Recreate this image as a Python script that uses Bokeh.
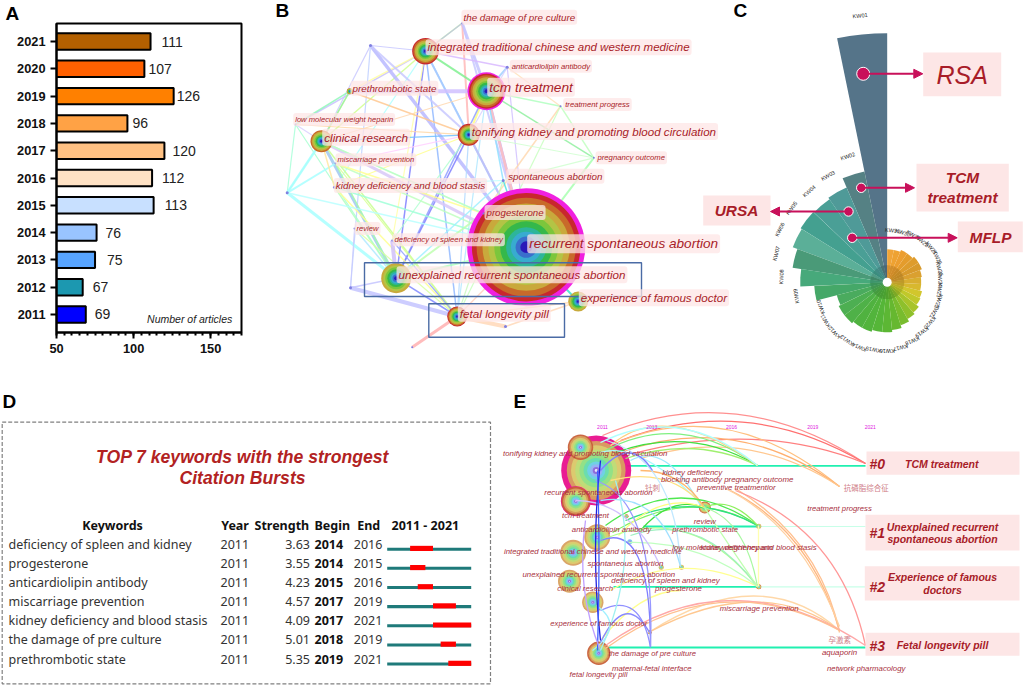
from bokeh.plotting import figure
from bokeh.layouts import column, row
from bokeh.embed import file_html
from bokeh.resources import INLINE
from bokeh.core.properties import value
from bokeh.models import (Range1d, FactorRange, FixedTicker, Arrow, NormalHead,
                          ColumnDataSource)
import math

# ---------- panel A data ----------
years = ["2011","2012","2013","2014","2015","2016","2017","2018","2019","2020","2021"]
articles = [69,67,75,76,113,112,120,96,126,107,111]
bar_colors = ["#0000FF","#1C98B0","#57A4FF","#99C4FF","#C8E0FF","#FFE2C4","#FFC183","#FFA245","#FF8000","#FF6000","#B36000"]
label_dx = [9,10,12,9,11,10,8,5,3,4,11]

# ---------- panel B data ----------
b_names = ["rec","tcm","integ","tonif","clin","unex","fetal","exper","pre","damage","anti","tp","preg","low","tl",
           "kid","spon","mis","gest","defi","rev","left","ll","bot","peach"]
b_x = [525.7,486,425,468.3,321,395.7,456.7,577.7,349.3,461.7,506.7,560,593.3,295,370,
       334,502.7,335,483,391.7,354,286.7,350,411.7,505]
b_y = [246.7,90.7,50.7,134.3,140.7,277.7,316,301,90.7,22.7,66.7,105.7,157.3,124,45,
       186.7,180,163,213,240,228,192.3,287.3,346.7,326]
b_r = [59,19,13.3,11,11,15,10,10,3,1,1.5,1,1,1,1.5,1.5,1.5,1,1,1,1,1.5,1.5,1,1.5]
b_skip = [0,0,0,0,1,2,0,2,1,0,0,0,0,0,0,0,0,0,0,0,0,0,0,0,0]
b_edges = [
 ("damage","tcm","#C4C4FF",3),("damage","integ","#C8FFB0",1.5),("damage","tonif","#FFB8B8",2),("damage","integ","#C0C0E0",1.2),
 ("damage","rec","#C8C8FF",2),("integ","anti","#D8B8FF",1.5),("integ","tcm","#80F090",2),("integ","tonif","#90D8FF",1.5),
 ("integ","rec","#A8C8FF",2),("integ","unex","#8080FF",1.5),("integ","fetal","#90B8FF",1.5),("integ","clin","#D0FF90",1.5),
 ("integ","low","#C8C0FF",1.5),("integ","pre","#FFFFA0",1.5),("integ","defi","#FFFFA8",1.2),("integ","kid","#B0FFFF",1.2),
 ("tl","rec","#B8B8FF",3.5),("tl","tonif","#C8C8FF",2),("tl","clin","#C8C8FF",1.2),("tl","ll","#C0D0FF",1.2),("tl","integ","#C8C8FF",1),
 ("pre","tcm","#D0C0FF",4),("pre","tonif","#FFC890",1.5),("pre","clin","#FFFF90",1.5),("pre","low","#90F8B8",1.5),("pre","clin","#90F0A8",1.5),
 ("low","clin","#D8D0FF",1.2),("low","tonif","#FFD8A8",1.2),("low","left","#A8FFD8",1.2),("low","unex","#A8FFD0",1.2),
 ("anti","tcm","#A0D0FF",2),("anti","tonif","#D8D0FF",1.2),("anti","rec","#D0C0FF",1.2),
 ("tcm","tonif","#FFFF80",2),("tcm","rec","#C0B0F8",3),("tcm","tp","#B0FFC0",1.5),("tcm","preg","#90F0A0",1.5),("tcm","unex","#90A0FF",1.5),
 ("tcm","fetal","#B0E8FF",1.2),("tcm","clin","#FFD8B0",1.2),("tcm","rec","#FFC0C0",2.5),("tcm","spon","#90E0FF",1.5),
 ("tp","preg","#C0FFC0",1.5),("tp","gest","#FFD8B0",1.5),("tp","fetal","#C8FFC0",1.2),("tp","anti","#FFE0B8",1.2),
 ("preg","rec","#A8FFB0",2),("preg","spon","#D0FFD0",1.2),("preg","tonif","#D0FFD0",1),
 ("tonif","clin","#70C0FF",1.2),("tonif","unex","#8080FF",1.5),("tonif","rec","#C0C0F8",2),("tonif","fetal","#B0D8FF",1.2),("tonif","mis","#FFD0FF",1.2),
 ("tonif","kid","#FFFF90",1.2),("tonif","defi","#B0FFD0",1.2),
 ("clin","unex","#A0C8F0",3),("clin","fetal","#C8FF90",1.5),("clin","rec","#D8C8F8",3),("clin","left","#A0FFE0",1.2),("clin","gest","#FFFF90",1.2),
 ("mis","unex","#A8FFA8",1.5),("mis","rec","#C0FFC0",1.5),("mis","gest","#FFFF90",1.5),("mis","fetal","#D8FF90",1.2),
 ("kid","unex","#B0FFC0",1.5),("kid","fetal","#FFFF90",1.5),("kid","rec","#A0FFD8",1.5),("kid","spon","#B8FFFF",1.2),
 ("spon","unex","#A0F0FF",1.5),("spon","fetal","#C8F8C0",1.2),("spon","rec","#50E0E0",1.5),
 ("left","unex","#A8FFFF",3),("left","clin","#A8FFFF",2.5),("left","mis","#A8FFFF",2),("left","rec","#B8FFFF",1.5),
 ("rev","unex","#B0E8FF",1.5),("rev","fetal","#D8FFA0",1.2),("rev","ll","#C8C8FF",1),
 ("defi","unex","#D0C0F8",4),("defi","fetal","#90A0FF",1.2),("gest","unex","#C0FFB0",2),("gest","clin","#B0FFD0",1.5),
 ("ll","fetal","#C4C4FF",4),("ll","unex","#C4C4FF",1.5),("unex","fetal","#8088FF",1.5),("unex","rec","#B0FFC0",2),
 ("fetal","bot","#FFB0B0",3),("fetal","peach","#FFD8B8",4),("fetal","rec","#FFD0C0",1.5),("exper","rec","#40E0D0",2),
 ("exper","fetal","#FFD8B0",1.5),("peach","exper","#FFD8B8",1.5),("kid","clin","#FFE8A0",1.5),
]
b_labels = [
 ("the damage of pre culture",461,16.7,112),("integrated traditional chinese and western medicine",425,46.7,262),
 ("anticardiolipin antibody",509.3,65.7,78),("tcm treatment",486.7,86.7,84),("prethrombotic state",350,87.7,84),
 ("treatment progress",562.7,104,65),("low molecular weight heparin",292.7,119,98),
 ("tonifying kidney and promoting blood circulation",469.3,131,244),("clinical research",321.7,136.7,84),
 ("pregnancy outcome",595,157.3,68),("miscarriage prevention",335,159.3,77),("spontaneous abortion",505.7,175.7,94),
 ("kidney deficiency and blood stasis",333.3,185,149),("progesterone",484,212,57),("review",354,228,22),
 ("deficiency of spleen and kidney",392,239.3,108),("recurrent spontaneous abortion",526.7,243.3,189),
 ("unexplained recurrent spontaneous abortion",396,274.3,227),("experience of famous doctor",578.3,297.3,147),
 ("fetal longevity pill",457.3,312.7,89),
]

# ---------- panel C data ----------
kw_values = [249,113,103,101,102,100.7,95.7,87,73,52,54,54,52,52,50,50,48,45,42,40,37,36,34,34,35,37,37,35,35,33,33]
kw_names = ["KW%02d" % i for i in range(1,32)]
kw_colors = ["#557489","#558184","#4F9A98","#4A9F96","#44A090","#5BAF98","#4A9A78","#47A97B","#45A868","#4AAB5E","#4DAF52","#4FB148",
             "#50B240","#52B43C","#55B638","#5CB734","#66B830","#78BC2E","#8EC02C","#A8C42A","#C0C82A","#D2C62C","#D8B82E","#D8AE30",
             "#DAA030","#D89A2C","#DE9C2C","#E49C2C","#EC9E30","#EEA232","#F0A438"]

# ---------- panel D data ----------
burst_keywords = ["deficiency of spleen and kidney","progesterone","anticardiolipin antibody","miscarriage prevention",
                  "kidney deficiency and blood stasis","the damage of pre culture","prethrombotic state"]
burst_year = [2011]*7
burst_strength = ["3.63","3.55","4.23","4.57","4.09","5.01","5.35"]
burst_begin = [2014,2014,2015,2017,2017,2018,2019]
burst_end = [2016,2015,2016,2019,2021,2019,2021]

# ---------- panel E data ----------
e_node_x = [595.7,580,575.3,596.7,572.7,569,592.3,598.3,704.3,758.3,758.3,681,660.7,626,629.3,649.3]
e_node_y = [470,446.7,500.7,536.7,552.3,580.7,601.7,652.7,507,525.7,586.3,566.7,566.7,515.7,541.3,631.7]
e_node_r = [35,12.7,15,13,13,11.5,10.7,11.7,6,2.5,2.5,2.5,2.5,2,2.5,2]
e_skip = [1,0,0,1,1,1,1,0,0,1,0,1,1,0,6,0]
e_years = ["2011","2013","2016","2019","2021"]
e_year_x = [602,651.3,731,812.3,869.7]
e_arcs = [
 (602,435,865,463,735,378,"#FF9090"),(620,440,865,463,745,392,"#FF7070"),(633,453,865,463,760,420,"#FF8080"),
 (610,445,839,486,725,392,"#FFC080"),(620,452,839,486,735,410,"#FFB070"),(640,458,839,486,745,425,"#FFC890"),
 (605,450,757,465,680,410,"#80F080"),(615,452,757,465,690,425,"#40E040"),(625,458,757,465,695,435,"#A0F070"),
 (610,445,757,465,665,398,"#FFD080"),(600,442,757,465,680,402,"#B0FFFF"),(630,460,700,505,665,440,"#A0E8FF"),
 (600,452,704,507,640,440,"#A8F8FF"),(610,480,704,507,670,465,"#FFE080"),(640,470,704,507,680,470,"#FFB870"),
 (605,525,757,525,680,470,"#50E850"),(612,532,757,525,690,485,"#80F060"),(625,520,757,525,695,490,"#30E080"),
 (640,530,704,507,670,495,"#40E040"),(704,507,757,525,730,495,"#90F060"),(618,535,704,507,660,490,"#FFFF80"),
 (600,540,757,586,690,500,"#B0FF90"),(630,535,757,586,700,510,"#A0F0C0"),(704,507,757,586,745,520,"#A8F8A0"),(704,507,757,586,725,540,"#C0FFB0"),
 (758,525,758,586,758,555,"#FFFFB0"),(610,590,757,586,680,548,"#FFFF90"),(628,542,757,586,700,540,"#C0FFC0"),
 (730,490,839,630,810,530,"#FFB880"),(735,488,839,632,820,540,"#FFC090"),(725,488,839,626,800,525,"#FFD0A0"),
 (735,490,865,645,840,530,"#FF9898"),(648,632,839,630,760,560,"#FFD8A8"),(648,632,839,630,760,572,"#FFC890"),
 (605,645,865,645,730,555,"#FFA8A8"),(605,648,839,630,720,565,"#FFC090"),(600,640,680,590,640,590,"#FFFF90"),
 (600,642,649,632,625,590,"#8888FF"),(600,610,650,647,640,590,"#9090FF"),(600,540,650,646,650,520,"#8080FF"),
 (595,480,650,646,655,500,"#9898FF"),(606,440,680,566,675,460,"#C0E8FF"),(600,500,680,566,660,490,"#A0E0FF"),
 (575,500,660,566,630,500,"#D0C0FF"),(600,470,652,470,630,435,"#8080FF"),(596,605,592,650,625,625,"#A0F0FF"),
 (600,460,600,640,590,550,"#2020E0"),(597,470,597,650,600,560,"#4060FF"),(585,520,600,650,575,590,"#C0A0FF"),(615,480,600,650,640,560,"#A0F0F0"),
]
e_labels = [
 ("tonifying kidney and promoting blood circulation",584.7,453.3,164),("kidney deficiency",691.7,471.7,60),
 ("blocking antibody pregnancy outcome",726.7,479.3,132),("preventive treatmentior",735.7,486.7,79),
 ("treatment progress",839,507.7,65),("recurrent spontaneous abortion",598,491.7,108),("tcm treatment",585,514.7,47),
 ("review",704.3,521,22),("anticardiolipin antibody",611,529.3,79),("prethrombotic state",704.7,528.7,66),
 ("integrated traditional chinese and western medicine",592.3,550.7,177),("low molecular weight heparin",722,547.3,100),
 ("kidney deficiency and blood stasis",758,547.3,117),("spontaneous abortion",625,563,76),
 ("unexplained recurrent spontaneous abortion",598.3,573.7,153),("deficiency of spleen and kidney",665,580.3,109),
 ("clinical research",584.7,587.7,56),("progesterone",678,588.3,47),("miscarriage prevention",758.7,608,79),
 ("experience of famous doctor",598.3,623.3,98),("aquaporin",839,652.3,35),("the damage of pre culture",651.7,653.3,88),
 ("maternal-fetal interface",651.3,668.3,80),("network pharmacology",865.7,668.3,78),("fetal longevity pill",598,674.3,58),
]
e_cjk = [("针刺",652,486.7,15),("抗磷脂综合征",865.7,486.7,45),("孕激素",839.3,638.7,20)]

CW = {**{c:.222 for c in "ijl"},**{c:.278 for c in "tf "},"r":.333,"m":.833,"w":.722,"k":.5,"s":.5,"y":.5,"v":.5,"c":.5,"z":.5,"-":.333}
def fit(s, w):
    return "%.1fpx" % (w / sum(CW.get(c, .556) for c in s))

RED = "#A81C28"
PINK = "#FDE6E6"
SANS = value("Liberation Sans")

def new_fig(w, h, x0, x1, y0, y1):
    p = figure(width=w, height=h, x_range=Range1d(x0, x1), y_range=Range1d(y0, y1), x_axis_type=None, y_axis_type=None,
               toolbar_location=None, output_backend="svg", min_border=0, outline_line_color=None, frame_align=False)
    p.grid.visible = False
    return p

# ---------- A ----------
pa = figure(width=258, height=385, y_range=FactorRange(factors=years, range_padding=0.16, range_padding_units="absolute"),
            x_range=Range1d(50, 170), toolbar_location=None, output_backend="svg",
            min_border_left=56, min_border_right=17, min_border_top=0, min_border_bottom=53,
            outline_line_color="black", outline_line_width=2, frame_align=False, title="A")
pa.title.text_font = "Liberation Sans"
pa.title.text_font_style = "bold"
pa.title.text_font_size = "19px"
pa.title.text_color = "black"
pa.title.align = "left"
pa.title.offset = -51
pa.title.standoff = 0
pa.grid.visible = False
src_a = ColumnDataSource(dict(y=years, v=articles, c=bar_colors, t=[str(v) for v in articles], dx=label_dx))
pa.hbar(y="y", left=50, right="v", height=0.6, fill_color="c", line_color="black", line_width=2, source=src_a)
pa.text(x="v", y="y", text="t", x_offset="dx", text_baseline="middle", text_font=SANS, text_font_size="14px",
        text_color="#222222", source=src_a)
pa.text(x=[171-7], y=["2011"], text=["Number of articles"], text_align="right", text_baseline="top", y_offset=[-1],
        text_font=SANS, text_font_style="italic", text_font_size="10.5px", text_color="#222222")
pa.xaxis.ticker = FixedTicker(ticks=[50,100,150], minor_ticks=list(range(50,171,5)))
for ax in (pa.xaxis[0], pa.yaxis[0]):
    ax.axis_line_width = 2
    ax.major_tick_line_width = 2
    ax.minor_tick_line_width = 2
    ax.major_tick_in = 0
    ax.minor_tick_in = 0
    ax.major_tick_out = 6
    ax.minor_tick_out = 3
    ax.major_label_text_font = "Liberation Sans"
    ax.major_label_text_font_style = "bold"
    ax.major_label_text_font_size = "12.8px"
    ax.major_label_text_color = "#111111"

# ---------- B + C ----------
pt = new_fig(766, 385, 258, 1024, 385, 0)
ix = {n:i for i,n in enumerate(b_names)}
pt.segment(x0=[b_x[ix[e[0]]] for e in b_edges], y0=[b_y[ix[e[0]]] for e in b_edges],
           x1=[b_x[ix[e[1]]] for e in b_edges], y1=[b_y[ix[e[1]]] for e in b_edges],
           line_color=[e[2] for e in b_edges], line_width=[e[3] for e in b_edges], line_alpha=0.85)
ring_cols = ["#C8272E","#C86A2A","#C9A93C","#B3C445","#7CC63C","#35B84A","#2DB59A","#38ABD0","#3A6FCC","#2A18B8"]
ring_frac = [.92,.84,.74,.64,.54,.44,.34,.26,.18,.10]
def rings(p, xs, ys, rs, flags, skips, cols, frac, alpha=1.0, mag="#F020E0"):
    X,Y,R,C = [],[],[],[]
    for x,y,r,f,s in zip(xs,ys,rs,flags,skips):
        if r < 2:
            X.append(x);Y.append(y);R.append(r);C.append("#8080E0");continue
        if f:
            X.append(x);Y.append(y);R.append(r);C.append(mag)
        for fr,c in zip(frac[s:],cols[s:]):
            X.append(x);Y.append(y);R.append(r*fr if f else r*fr/frac[s]);C.append(c)
    p.circle(x=X,y=Y,radius=R,fill_color=C,line_color=None,fill_alpha=alpha)
rings(pt, b_x, b_y, b_r, [r>15 for r in b_r], b_skip, ring_cols, ring_frac)
pt.quad(left=[364,428.3],right=[641,564],top=[262.3,303.3],bottom=[296,336.7],fill_color=None,line_color="#4A6BA5",line_width=1.4)
pt.text(x=[l[1] for l in b_labels],y=[l[2] for l in b_labels],text=[l[0] for l in b_labels],
        text_font=SANS,text_font_style="italic",text_baseline="middle",text_color=RED,
        text_font_size=[fit(l[0],l[3]) for l in b_labels],
        background_fill_color=PINK,background_fill_alpha=0.75,border_radius=3,padding=2)

# polar
cxc, cyc, dth = 886.7, 281.7, 360/31
th0 = [90+i*dth for i in range(31)]
th1 = [90+(i+1)*dth for i in range(31)]
pt.wedge(x=cxc,y=cyc,radius=kw_values,start_angle=th0,end_angle=th1,start_angle_units="deg",end_angle_units="deg",fill_color=kw_colors,line_color=None)
inner = ["#%02x%02x%02x" % tuple(int(int(c[j:j+2],16)*.88) for j in (1,3,5)) for c in kw_colors]
pt.wedge(x=cxc,y=cyc,radius=17,start_angle=th0,end_angle=th1,start_angle_units="deg",end_angle_units="deg",fill_color=inner,line_color=None)
pt.circle(x=cxc,y=cyc,radius=4.5,fill_color="white",line_color=None)
mid = [(a+b)/2 for a,b in zip(th0,th1)]
pt.text(x=[cxc+(r+19)*math.cos(math.radians(m)) for r,m in zip(kw_values,mid)],
        y=[cyc-(r+19)*math.sin(math.radians(m)) for r,m in zip(kw_values,mid)],
        text=kw_names,angle=[m-90 for m in mid],angle_units="deg",text_align="center",text_baseline="middle",
        text_font=SANS,text_font_size="5.5px",text_color="#222222")
pt.quad(left=[922.7,916,702.7,957.3],right=[1000.7,1008.3,770,1022.3],top=[52,163.3,195,221],bottom=[95.7,211,225,251.7],
        fill_color=PINK,line_color=None)
CRIM="#C8105A"
for (x0,y0,x1) in [(862.7,73.3,922.3),(860.7,187.3,914),(848,211,770),(851.7,237.3,956.7)]:
    pt.add_layout(Arrow(x_start=x0,y_start=y0,x_end=x1,y_end=y0,line_color=CRIM,line_width=2,
                        end=NormalHead(size=9,fill_color=CRIM,line_color=CRIM)))
pt.circle(x=[862.7,860.7,848,851.7],y=[73.3,187.3,211,237.3],radius=[6.5,4.7,4.7,4.7],fill_color=CRIM,line_color="white",line_width=1)
pt.text(x=[961.7],y=[74],text=["RSA"],text_font=SANS,text_font_style="italic",text_font_size="25px",text_color=RED,text_align="center",text_baseline="middle")
pt.text(x=[962,962,736,990],y=[177,197,210,237],text=["TCM","treatment","URSA","MFLP"],text_font=SANS,text_font_style="bold italic",
        text_font_size="15.4px",text_color=RED,text_align="center",text_baseline="middle")
for t,x,y in [("B",275,10),("C",733,10)]:
    pt.text(x=[x],y=[y],text=[t],text_font=SANS,text_font_style="bold",text_font_size="19px",text_color="black",text_align="left",text_baseline="middle")

# ---------- D + E ----------
pb = new_fig(1024, 300, 0, 1024, 685, 385)
yw = 84/11
pb.extra_x_ranges["years"] = Range1d(2011-386.7/yw, 2011+(1024-386.7)/yw)
pb.extra_y_ranges["rows"] = Range1d((685-543.7)/19.15, (385-543.7)/19.15)
pb.text(x=[2],y=[401],text=["D"],text_font=SANS,text_font_style="bold",text_font_size="19px",text_color="black",text_baseline="middle")
pb.text(x=[513],y=[401],text=["E"],text_font=SANS,text_font_style="bold",text_font_size="19px",text_color="black",text_baseline="middle")
pb.quad(left=[1.7],right=[490],top=[421.7],bottom=[683.3],fill_color=None,line_color="#808080",line_width=1.2,line_dash="4 2")
pb.text(x=[242,242],y=[456.7,477.7],text=["TOP 7 keywords with the strongest","Citation Bursts"],text_align="center",text_baseline="middle",
        text_font=SANS,text_font_style="bold italic",text_font_size="17.6px",text_color="#B22222")
NS = value("Noto Sans")
rows = list(range(7))
pb.text(x=[112,220.7,254,314,356.7,391],y=[-1]*6,y_range_name="rows",text=["Keywords","Year","Strength","Begin","End","2011 - 2021"],
        text_font=NS,text_font_style="bold",text_font_size="12.5px",text_color="#111111",text_baseline="middle",
        text_align=["center"]+["left"]*5)
common = dict(y=rows,y_range_name="rows",text_font=NS,text_font_size="12.5px",text_color="#333333",text_baseline="middle")
pb.text(x=[8]*7,text=burst_keywords,**common)
pb.text(x=[220]*7,text=[str(y) for y in burst_year],**common)
pb.text(x=[309.5]*7,text=burst_strength,text_align="right",**common)
pb.text(x=[353.3]*7,text=[str(y) for y in burst_end],**common)
pb.text(x=[314]*7,text=[str(y) for y in burst_begin],y=rows,y_range_name="rows",text_font=NS,text_font_style="bold",
        text_font_size="12.5px",text_color="#111111",text_baseline="middle")
pb.hbar(y=[r+.26 for r in rows],left=2011,right=2022,height=.16,fill_color="#1F7A7A",line_color=None,x_range_name="years",y_range_name="rows")
pb.hbar(y=[r+.22 for r in rows],left=burst_begin,right=[e+1 for e in burst_end],height=.27,fill_color="#FF0000",line_color=None,x_range_name="years",y_range_name="rows")

# E: cluster lines
pb.segment(x0=[756,758,626.7,613,643,600],y0=[526,586.3,465.3,586.3,526,647],x1=[865,865,865,758,757,865],y1=[526,586.3,465.3,586.3,526,647],
           line_color=["#C8FFE8","#C8FFE8","#20F0B0","#20F0B0","#20F0B0","#20F0B0"],line_width=[1.2,1.2,1.8,1.8,1.8,1.8])
e_cols = ["#C8603A","#D8A060","#DCCC70","#BEDC78","#90E088","#68DCB0","#70D0E8","#98B0F4","#9068D8","#F4F0FF"]
e_frac = [.96,.84,.72,.60,.48,.36,.26,.18,.10,.04]
rings(pb, e_node_x, e_node_y, e_node_r, [r in (35,15) for r in e_node_r], e_skip, e_cols, e_frac, alpha=.95, mag="#E8108C")
pb.quadratic(x0=[a[0] for a in e_arcs],y0=[a[1] for a in e_arcs],x1=[a[2] for a in e_arcs],y1=[a[3] for a in e_arcs],
             cx=[a[4] for a in e_arcs],cy=[a[5] for a in e_arcs],line_color=[a[6] for a in e_arcs],line_width=1.3)
pb.text(x=e_year_x,y=[426.7]*5,text=e_years,text_align="center",text_baseline="middle",text_font=SANS,text_font_size="5px",text_color="#E020E0")
E_T="#A83040"
pb.text(x=[l[1] for l in e_labels],y=[l[2] for l in e_labels],text=[l[0] for l in e_labels],text_font=SANS,text_font_style="italic",
        text_align="center",text_baseline="middle",text_color=E_T,text_font_size=[fit(l[0],l[3]) for l in e_labels])
pb.text(x=[l[1] for l in e_cjk],y=[l[2] for l in e_cjk],text=[l[0] for l in e_cjk],text_font=value("Noto Sans CJK SC"),
        text_align="center",text_baseline="middle",text_color="#D08088",text_font_size="7.5px")
pb.quad(left=[866,865,864.3,865],right=[1019]*4,top=[451,514.3,565.7,632.3],bottom=[474.3,550,600,655.3],fill_color=PINK,line_color=None)
bi = dict(text_font=SANS,text_font_style="bold italic",text_color=RED,text_baseline="middle")
pb.text(x=[869,869,869,869],y=[463,532,586,645.5],text=["#0","#1","#2","#3"],text_font_size="14px",**bi)
pb.text(x=[942.7,942,942,942,942,942],y=[463.3,526,538.7,576.3,589,644.3],
        text=["TCM  treatment","Unexplained recurrent","spontaneous abortion","Experience of famous","doctors","Fetal longevity pill"],
        text_align="center",text_font_size="10.5px",**bi)

layout = column(row(pa, pt, spacing=0), pb, spacing=0)
open("out.html", "w").write(file_html(layout, INLINE))
